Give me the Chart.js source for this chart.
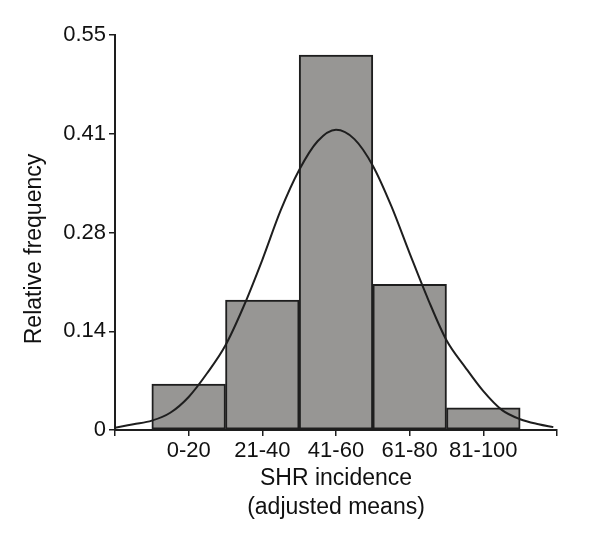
<!DOCTYPE html>
<html>
<head>
<meta charset="utf-8">
<script src="https://cdn.jsdelivr.net/npm/chart.js@4.4.0/dist/chart.umd.min.js"></script>
<style>
  html, body { margin: 0; padding: 0; background: #fff; }
  #wrap { width: 600px; height: 538px; }
</style>
</head>
<body>
<div id="wrap"><canvas id="chart"></canvas></div>
<script>
// histogram classes and relative frequencies
const categories = ["0-20", "21-40", "41-60", "61-80", "81-100"];
const relFreq = [0.064, 0.181, 0.522, 0.203, 0.031];

// fitted curve (x in class units, 0 = first class)
const curveX = [-1, -0.75, -0.5, -0.25, 0, 0.25, 0.5, 0.75, 1, 1.25, 1.5, 1.75, 2,
  2.25, 2.5, 2.75, 3, 3.25, 3.5, 3.75, 4, 4.25, 4.5, 4.75, 4.95];
const curveY = [0.003, 0.008, 0.013, 0.024, 0.046, 0.079, 0.118, 0.173, 0.237, 0.306,
  0.362, 0.402, 0.418, 0.405, 0.368, 0.312, 0.246, 0.182, 0.125, 0.088, 0.054, 0.028,
  0.015, 0.008, 0.004];

const yTicks = [0, 0.1375, 0.275, 0.4125, 0.55];
const yTickLabels = ["0", "0.14", "0.28", "0.41", "0.55"];
const xTicks = [-1, 0, 1, 2, 3, 4, 5];
const yTitle = "Relative frequency";

Chart.defaults.font.family = "'Liberation Sans', Arial, sans-serif";
Chart.defaults.color = "#111";

const ink = "#1e1e1e";

// y title drawn by hand so it sits a bit below the axis middle, as in the figure
const yTitlePlugin = {
  id: "yTitle",
  afterDraw(chart) {
    const { ctx } = chart;
    ctx.save();
    ctx.translate(35, 249);
    ctx.rotate(-Math.PI / 2);
    ctx.font = "23px 'Liberation Sans', Arial, sans-serif";
    ctx.fillStyle = "#111";
    ctx.textAlign = "center";
    ctx.textBaseline = "middle";
    ctx.fillText(yTitle, 0, 0);
    ctx.restore();
  },
};

new Chart(document.getElementById("chart"), {
  data: {
    datasets: [
      {
        type: "line",
        order: 0,
        data: curveX.map((x, i) => ({ x, y: curveY[i] })),
        borderColor: ink,
        borderWidth: 2,
        pointRadius: 0,
        cubicInterpolationMode: "monotone",
        fill: false,
      },
      {
        type: "bar",
        order: 1,
        data: relFreq.map((v, i) => ({ x: i, y: v })),
        backgroundColor: "#979694",
        borderColor: ink,
        borderWidth: 2,
        borderSkipped: false,
        categoryPercentage: 1,
        barPercentage: 1,
      },
    ],
  },
  options: {
    responsive: true,
    maintainAspectRatio: false,
    animation: false,
    layout: { padding: { top: 35, right: 43, left: 0, bottom: 0 } },
    plugins: { legend: { display: false }, tooltip: { enabled: false } },
    scales: {
      x: {
        type: "linear",
        min: -1,
        max: 5,
        offset: false,
        afterBuildTicks: (scale) => {
          scale.ticks = xTicks.map((v) => ({ value: v }));
        },
        afterFit: (scale) => {
          scale.height = 108;
        },
        ticks: {
          autoSkip: false,
          maxRotation: 0,
          padding: 2,
          font: { size: 22 },
          color: "#111",
          callback: (v) => (categories[v] !== undefined ? categories[v] : ""),
        },
        grid: {
          offset: false,
          drawOnChartArea: false,
          drawTicks: true,
          tickLength: 6,
          color: ink,
          lineWidth: 1.5,
        },
        border: { display: true, color: ink, width: 2 },
        title: {
          display: true,
          text: ["SHR incidence", "(adjusted means)"],
          font: { size: 23, lineHeight: 1.26 },
          color: "#111",
          padding: { top: 0, bottom: 16 },
        },
      },
      y: {
        min: 0,
        max: 0.55,
        afterBuildTicks: (scale) => {
          scale.ticks = yTicks.map((v) => ({ value: v }));
        },
        afterFit: (scale) => {
          scale.width = 115;
        },
        ticks: {
          autoSkip: false,
          padding: 3,
          font: { size: 22 },
          color: "#111",
          callback: (v, i) => yTickLabels[i],
        },
        grid: {
          drawOnChartArea: false,
          drawTicks: true,
          tickLength: 6,
          color: ink,
          lineWidth: 1.5,
        },
        border: { display: true, color: ink, width: 2 },
      },
    },
  },
  plugins: [yTitlePlugin],
});
</script>
</body>
</html>
